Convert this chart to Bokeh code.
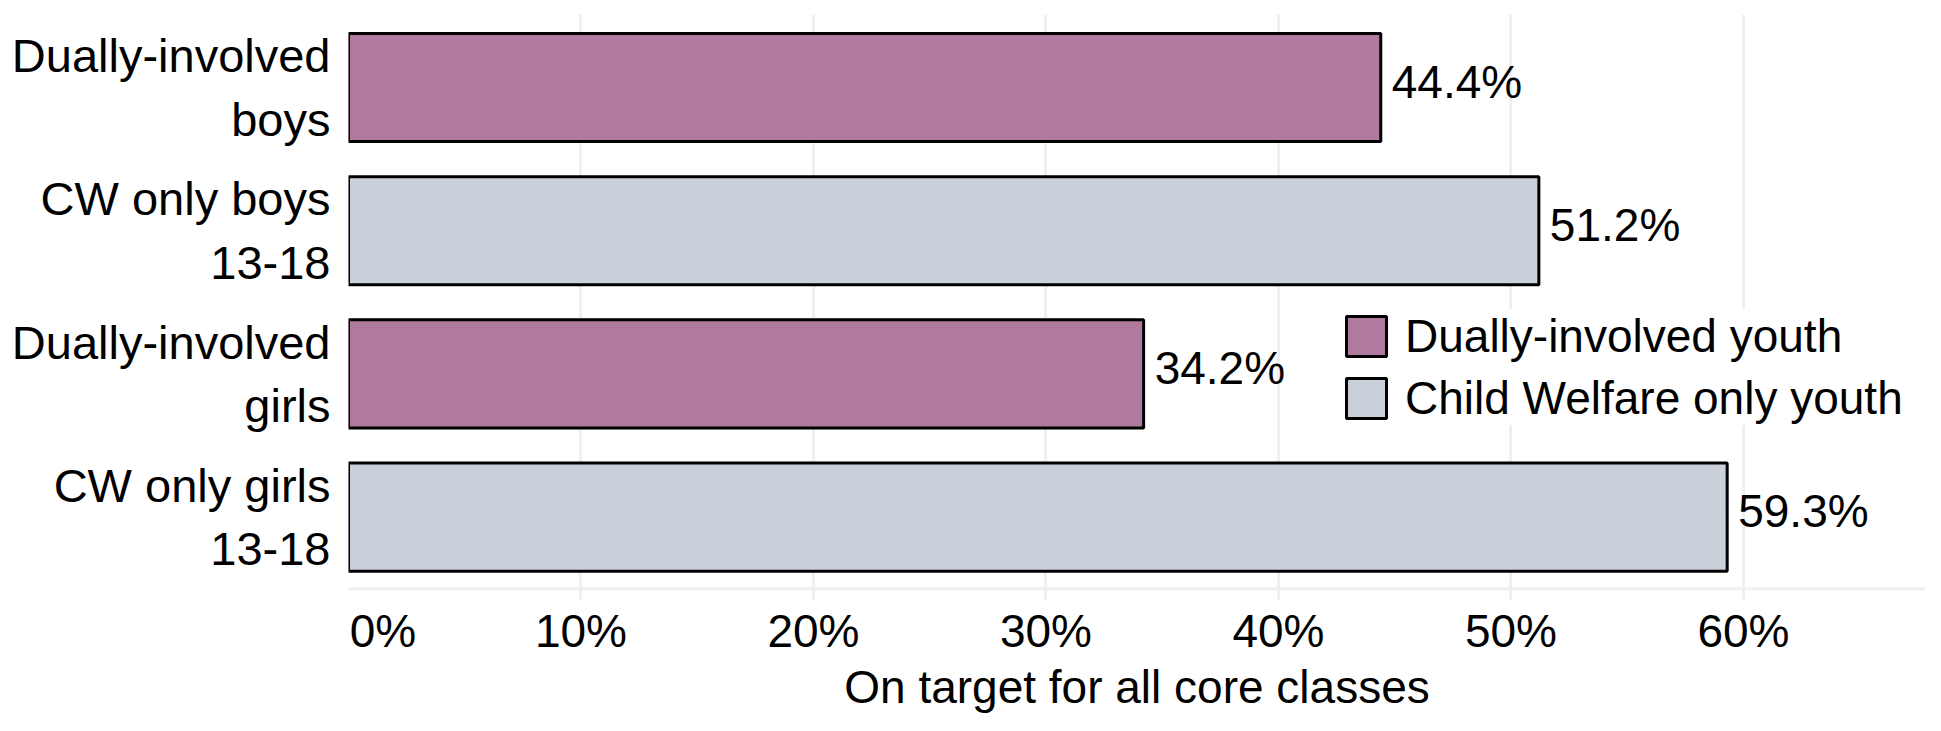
from bokeh.plotting import figure
from bokeh.models import Range1d, FixedTicker, Span, Legend, LegendItem, ColumnDataSource
from bokeh.embed import file_html
from bokeh.resources import INLINE
from bokeh.core.properties import value

# ---- data ----
categories = ["Dually-involved\nboys", "CW only boys\n13-18",
              "Dually-involved\ngirls", "CW only girls\n13-18"]
values = [44.4, 51.2, 34.2, 59.3]
groups = ["Dually-involved youth", "Child Welfare only youth",
          "Dually-involved youth", "Child Welfare only youth"]
value_labels = ["44.4%", "51.2%", "34.2%", "59.3%"]
x_ticks = [0, 10, 20, 30, 40, 50, 60]
x_tick_labels = ["0%", "10%", "20%", "30%", "40%", "50%", "60%"]
x_title = "On target for all core classes"
legend_order = ["Dually-involved youth", "Child Welfare only youth"]
group_colors = {"Dually-involved youth": "#B07A9E",
                "Child Welfare only youth": "#C9D0D9"}

FONT = "Liberation Sans"
FS = "46px"

n = len(categories)
ypos = [n - i for i in range(n)]  # top to bottom

p = figure(width=1925, height=715, output_backend="svg", toolbar_location=None,
           x_range=Range1d(0, 67.83), y_range=Range1d(0.4244, 4.51),
           min_border_left=348, min_border_right=0, min_border_top=14,
           min_border_bottom=112, title=None)
p.outline_line_color = None
p.background_fill_color = "white"
p.border_fill_color = "white"

# grid
p.xgrid.ticker = FixedTicker(ticks=x_ticks)
p.xgrid.grid_line_color = "#F0F0F0"
p.xgrid.grid_line_width = 3
p.ygrid.grid_line_color = None
p.add_layout(Span(location=0.5, dimension="width", line_color="#F0F0F0", line_width=3))

# bars
renderers = {}
for g in legend_order:
    idx = [i for i in range(n) if groups[i] == g]
    src = ColumnDataSource(dict(y=[ypos[i] for i in idx], v=[values[i] for i in idx]))
    r = p.hbar(y="y", right="v", left=0, height=0.755, source=src,
               fill_color=group_colors[g], line_color="black", line_width=3)
    renderers[g] = r

# value labels
p.text(x=values, y=ypos, text=value_labels, x_offset=11, y_offset=-6,
       text_baseline="middle", text_align="left",
       text_font=value(FONT), text_font_size=FS, text_color="black")

# x axis
xa = p.xaxis[0]
xa.ticker = FixedTicker(ticks=x_ticks)
overrides = {t: lab for t, lab in zip(x_ticks, x_tick_labels)}
overrides[x_ticks[0]] = "\u2003\u2002" + x_tick_labels[0]  # first label sits right of its tick
xa.major_label_overrides = overrides
xa.major_label_text_font = FONT
xa.major_label_text_font_size = FS
xa.major_label_text_color = "black"
xa.major_label_standoff = 5
xa.axis_line_color = None
xa.major_tick_line_color = None
xa.minor_tick_line_color = None
xa.major_tick_out = 0
xa.major_tick_in = 0
xa.axis_label = x_title
xa.axis_label_text_font = FONT
xa.axis_label_text_font_size = FS
xa.axis_label_text_font_style = "normal"
xa.axis_label_text_color = "black"
xa.axis_label_standoff = 1

# y axis
ya = p.yaxis[0]
ya.ticker = FixedTicker(ticks=ypos)
ya.major_label_overrides = {ypos[i]: categories[i] for i in range(n)}
ya.major_label_text_font = FONT
ya.major_label_text_font_size = "47px"
ya.major_label_text_color = "black"
ya.major_label_standoff = 18
ya.major_tick_out = 0
ya.major_tick_in = 0
ya.axis_line_color = None
ya.major_tick_line_color = None
ya.minor_tick_line_color = None

# legend
legend = Legend(items=[LegendItem(label=g, renderers=[renderers[g]]) for g in legend_order],
                location=(993, 174), label_text_font=FONT, label_text_font_size="46px",
                label_text_color="black",
                glyph_width=50, glyph_height=50, label_standoff=14, spacing=8,
                padding=11, margin=0, border_line_color=None,
                background_fill_color="white", background_fill_alpha=1.0)
p.add_layout(legend)

open("out.html", "w").write(file_html(p, INLINE))
